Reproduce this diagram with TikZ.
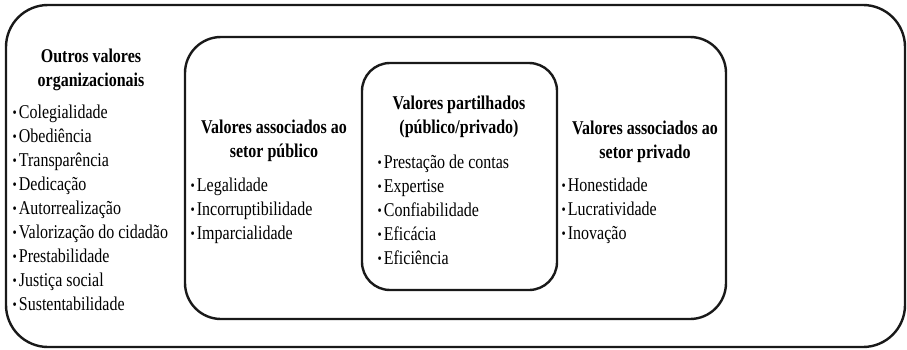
\documentclass[tikz,border=0pt]{standalone}
\usepackage{fontspec}
\setmainfont{Liberation Serif}[FakeStretch=0.82]
\newcommand{\bul}{\raisebox{.15ex}{\scalebox{.75}{\textbullet}}\hspace{2pt}}
\tikzset{
  box/.style={draw=black!90, line width=2.4pt},
  head/.style={font=\fontsize{19.5}{24}\selectfont\bfseries, align=center, anchor=north, inner sep=0pt},
  items/.style={font=\fontsize{19.5}{24}\selectfont, align=left, anchor=north west, inner sep=0pt}
}

\begin{document}
\begin{tikzpicture}[x=1pt,y=-1pt]
    \useasboundingbox (0,0) rectangle (907,350);
    \draw[box, rounded corners=42pt] (6,5) rectangle (905,347);
    \draw[box, rounded corners=36pt] (185,37) rectangle (726,319);
    \draw[box, rounded corners=28pt] (362,63) rectangle (557,290);
    \node[head] (outros) at (91,48.5) {Outros valores\\organizacionais};
    \node[items] (outroslist) at (12.5,105) {\bul Colegialidade\\\bul Obediência\\\bul Transparência\\\bul Dedicação\\\bul Autorrealização\\\bul Valorização do cidadão\\\bul Prestabilidade\\\bul Justiça social\\\bul Sustentabilidade};
    \node[head] (publico) at (274,120.2) {Valores associados ao\\setor público};
    \node[items] (publicolist) at (190.5,177.7) {\bul Legalidade\\\bul Incorruptibilidade\\\bul Imparcialidade};
    \node[head] (partilhados) at (459,96.2) {Valores partilhados\\(público/privado)};
    \node[items] (partilhadoslist) at (377.5,155.2) {\bul Prestação de contas\\\bul Expertise\\\bul Confiabilidade\\\bul Eficácia\\\bul Eficiência};
    \node[head] (privado) at (645,121.2) {Valores associados ao\\setor privado};
    \node[items] (privadolist) at (561.5,178.2) {\bul Honestidade\\\bul Lucratividade\\\bul Inovação};
\end{tikzpicture}
\end{document}
